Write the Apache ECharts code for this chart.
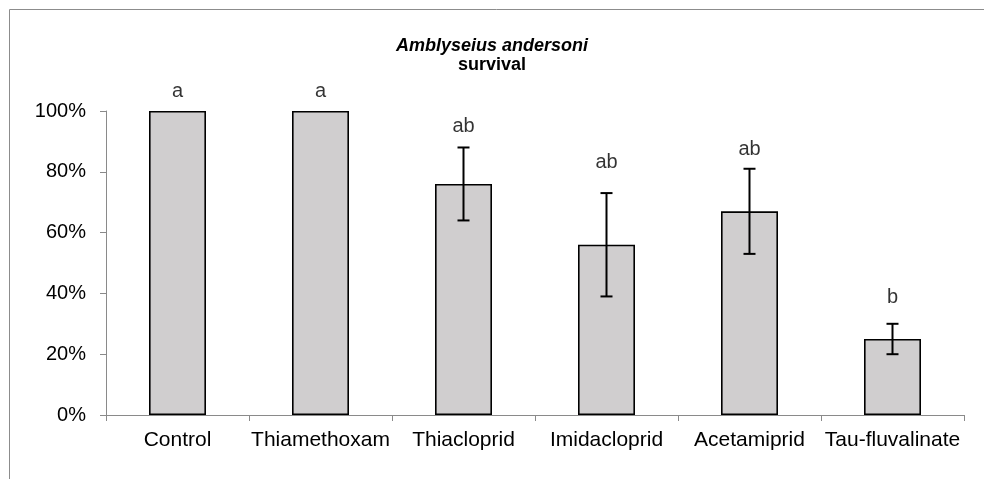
<!DOCTYPE html>
<html>
<head>
<meta charset="utf-8">
<script src="https://cdn.jsdelivr.net/npm/echarts@6/dist/echarts.min.js"></script>
<style>
  html, body { margin: 0; padding: 0; background: #fff; }
  #chart { width: 984px; height: 479px; }
</style>
</head>
<body>
<div id="chart"></div>
<script>
const categories = ['Control', 'Thiamethoxam', 'Thiacloprid', 'Imidacloprid', 'Acetamiprid', 'Tau-fluvalinate']
const survival = [100, 100, 76, 56, 67, 25]
const errors = [0, 0, 12, 17, 14, 5]
const letters = ['a', 'a', 'ab', 'ab', 'ab', 'b']
const letterY = [106.3, 106.3, 95.0, 83.2, 87.5, 38.8]
const yTicks = [0, 20, 40, 60, 80, 100]

const font = "'Liberation Sans', Arial, sans-serif"
const axisGray = '#8a8a8a'

var myChart = echarts.init(document.getElementById('chart'))

let option = {
  animation: false,
  textStyle: { fontFamily: font },
  title: {
    text: '{i|Amblyseius andersoni}\n{b|survival}',
    left: 487,
    top: 32,
    textAlign: 'center',
    textStyle: {
      rich: {
        i: { fontFamily: font, fontSize: 18, fontWeight: 'bold', fontStyle: 'italic', color: '#000', lineHeight: 19 },
        b: { fontFamily: font, fontSize: 18, fontWeight: 'bold', color: '#000', lineHeight: 19 }
      }
    }
  },
  graphic: [
    {
      type: 'polyline',
      shape: { points: [[9.5, 479], [9.5, 9.5], [984, 9.5]] },
      style: { stroke: '#8c8c8c', lineWidth: 1, fill: null }
    }
  ],
  grid: { left: 106, right: 20, top: 111, bottom: 64, containLabel: false },
  xAxis: {
    type: 'category',
    data: categories,
    axisLine: { lineStyle: { color: axisGray, width: 1 } },
    axisTick: { show: true, interval: 0, length: 6, lineStyle: { color: axisGray } },
    axisLabel: { interval: 0, color: '#000', fontSize: 21, fontFamily: font, margin: 15 }
  },
  yAxis: {
    type: 'value',
    min: yTicks[0],
    max: yTicks[yTicks.length - 1],
    interval: 20,
    splitLine: { show: false },
    axisLine: { show: true, lineStyle: { color: axisGray, width: 1 } },
    axisTick: { show: true, length: 6, lineStyle: { color: axisGray } },
    axisLabel: { color: '#000', fontSize: 20, fontFamily: font, margin: 20, formatter: '{value}%' }
  },
  series: [
    {
      name: 'survival',
      type: 'bar',
      data: survival,
      barWidth: 57,
      itemStyle: { color: '#d0cecf', borderColor: '#000', borderWidth: 1.6 }
    },
    {
      name: 'error',
      type: 'custom',
      data: survival.map((v, i) => [i, v, errors[i]]),
      renderItem: function (params, api) {
        const i = api.value(0)
        const v = api.value(1)
        const e = api.value(2)
        if (!e) return null
        const hi = api.coord([i, v + e])
        const lo = api.coord([i, v - e])
        const cap = 6
        const style = { stroke: '#000', lineWidth: 2 }
        return {
          type: 'group',
          children: [
            { type: 'line', shape: { x1: hi[0], y1: hi[1], x2: lo[0], y2: lo[1] }, style: style },
            { type: 'line', shape: { x1: hi[0] - cap, y1: hi[1], x2: hi[0] + cap, y2: hi[1] }, style: style },
            { type: 'line', shape: { x1: lo[0] - cap, y1: lo[1], x2: lo[0] + cap, y2: lo[1] }, style: style }
          ]
        }
      },
      z: 5
    },
    {
      name: 'letters',
      type: 'scatter',
      clip: false,
      data: letterY.map((v, i) => [i, v, letters[i]]),
      symbolSize: 1,
      itemStyle: { color: 'rgba(0,0,0,0)' },
      label: {
        show: true,
        position: 'inside',
        formatter: p => p.value[2],
        color: '#000',
        fontSize: 20,
        fontFamily: font
      },
      z: 6
    }
  ]
}

myChart.setOption(option)
</script>
</body>
</html>
